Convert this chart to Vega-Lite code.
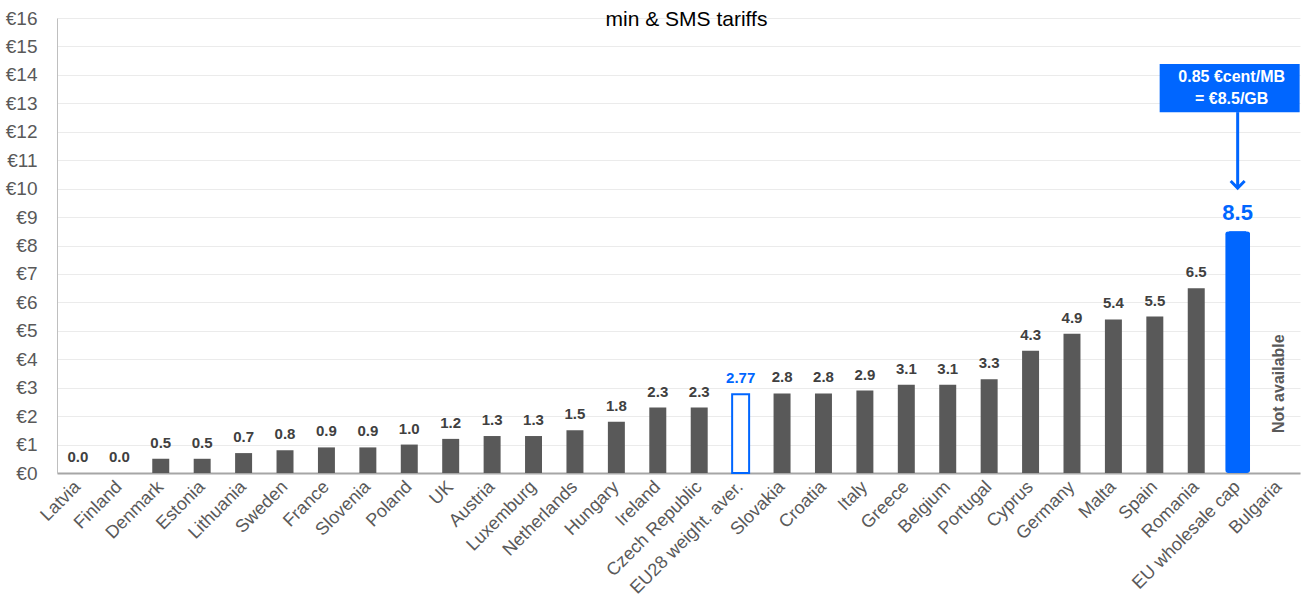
{
  "$schema": "https://vega.github.io/schema/vega-lite/v6.json",
  "width": 1243,
  "height": 455,
  "autosize": {"type": "none"},
  "padding": {"left": 57, "top": 18, "right": 13, "bottom": 130},
  "background": "white",
  "title": {
    "text": "min & SMS tariffs",
    "anchor": "middle",
    "baseline": "middle",
    "offset": -32,
    "dx": 8,
    "font": "Liberation Sans",
    "fontSize": 21,
    "fontWeight": "normal",
    "color": "#000000"
  },
  "config": {
    "view": {"stroke": null},
    "font": "Liberation Sans",
    "axisY": {
      "tickCount": 16,
      "labelExpr": "'€' + datum.value",
      "labelOverlap": false,
      "labelFontSize": 19,
      "labelColor": "#595959",
      "labelFont": "Liberation Sans",
      "labelPadding": 20,
      "ticks": false,
      "gridColor": "#ebebeb",
      "gridWidth": 1,
      "domainColor": "#bfbfbf",
      "domainWidth": 1
    }
  },
  "data": {
    "values": [
      {"country": "Latvia", "value": 0.0, "label": "0.0", "kind": "country"},
      {"country": "Finland", "value": 0.0, "label": "0.0", "kind": "country"},
      {"country": "Denmark", "value": 0.5, "label": "0.5", "kind": "country"},
      {"country": "Estonia", "value": 0.5, "label": "0.5", "kind": "country"},
      {"country": "Lithuania", "value": 0.7, "label": "0.7", "kind": "country"},
      {"country": "Sweden", "value": 0.8, "label": "0.8", "kind": "country"},
      {"country": "France", "value": 0.9, "label": "0.9", "kind": "country"},
      {"country": "Slovenia", "value": 0.9, "label": "0.9", "kind": "country"},
      {"country": "Poland", "value": 1.0, "label": "1.0", "kind": "country"},
      {"country": "UK", "value": 1.2, "label": "1.2", "kind": "country"},
      {"country": "Austria", "value": 1.3, "label": "1.3", "kind": "country"},
      {"country": "Luxemburg", "value": 1.3, "label": "1.3", "kind": "country"},
      {"country": "Netherlands", "value": 1.5, "label": "1.5", "kind": "country"},
      {"country": "Hungary", "value": 1.8, "label": "1.8", "kind": "country"},
      {"country": "Ireland", "value": 2.3, "label": "2.3", "kind": "country"},
      {"country": "Czech Republic", "value": 2.3, "label": "2.3", "kind": "country"},
      {"country": "EU28 weight. aver.", "value": 2.77, "label": "2.77", "kind": "average"},
      {"country": "Slovakia", "value": 2.8, "label": "2.8", "kind": "country"},
      {"country": "Croatia", "value": 2.8, "label": "2.8", "kind": "country"},
      {"country": "Italy", "value": 2.9, "label": "2.9", "kind": "country"},
      {"country": "Greece", "value": 3.1, "label": "3.1", "kind": "country"},
      {"country": "Belgium", "value": 3.1, "label": "3.1", "kind": "country"},
      {"country": "Portugal", "value": 3.3, "label": "3.3", "kind": "country"},
      {"country": "Cyprus", "value": 4.3, "label": "4.3", "kind": "country"},
      {"country": "Germany", "value": 4.9, "label": "4.9", "kind": "country"},
      {"country": "Malta", "value": 5.4, "label": "5.4", "kind": "country"},
      {"country": "Spain", "value": 5.5, "label": "5.5", "kind": "country"},
      {"country": "Romania", "value": 6.5, "label": "6.5", "kind": "country"},
      {"country": "EU wholesale cap", "value": 8.5, "label": "8.5", "kind": "cap"},
      {"country": "Bulgaria", "value": null, "label": "", "kind": "na"}
    ]
  },
  "encoding": {
    "x": {
      "field": "country",
      "type": "nominal",
      "sort": null,
      "scale": {"paddingInner": 0.59, "paddingOuter": 0.3},
      "axis": {
        "title": null,
        "labelAngle": -45,
        "labelAlign": "right",
        "labelBaseline": "middle",
        "labelPadding": 11,
        "labelFontSize": 18,
        "labelColor": "#595959",
        "labelFont": "Liberation Sans",
        "ticks": false,
        "domainColor": "#a6a6a6",
        "domainWidth": 2,
        "labelOverlap": false
      }
    }
  },
  "layer": [
    {
      "mark": {"type": "bar", "strokeWidth": 2},
      "transform": [{"filter": "datum.kind !== 'na'"}],
      "encoding": {
        "y": {
          "field": "value",
          "type": "quantitative",
          "title": null,
          "scale": {"domain": [0, 16], "nice": false}
        },
        "fill": {
          "field": "kind",
          "type": "nominal",
          "scale": {"domain": ["country", "average", "cap"], "range": ["#595959", "#ffffff", "#0066ff"]},
          "legend": null
        },
        "stroke": {
          "field": "kind",
          "type": "nominal",
          "scale": {"domain": ["country", "average", "cap"], "range": ["#595959", "#0066ff", "#0066ff"]},
          "legend": null
        },
        "strokeWidth": {
          "condition": {"test": "datum.kind === 'average'", "value": 2},
          "value": 0
        }
      }
    },
    {
      "mark": {"type": "bar", "color": "#0066ff", "width": 25, "cornerRadius": 3},
      "transform": [{"filter": "datum.kind === 'cap'"}],
      "encoding": {"y": {"field": "value", "type": "quantitative", "title": null}}
    },
    {
      "mark": {"type": "text", "baseline": "bottom", "dy": -8, "fontSize": 15, "fontWeight": "bold", "font": "Liberation Sans"},
      "transform": [{"filter": "datum.kind === 'country' || datum.kind === 'average'"}],
      "encoding": {
        "y": {"field": "value", "type": "quantitative", "title": null},
        "text": {"field": "label"},
        "color": {
          "condition": {"test": "datum.kind === 'average'", "value": "#0066ff"},
          "value": "#404040"
        }
      }
    },
    {
      "mark": {"type": "text", "baseline": "bottom", "dy": -6, "fontSize": 22, "fontWeight": "bold", "color": "#0066ff", "font": "Liberation Sans"},
      "transform": [{"filter": "datum.kind === 'cap'"}],
      "encoding": {
        "y": {"field": "value", "type": "quantitative", "title": null},
        "text": {"field": "label"}
      }
    },
    {
      "mark": {"type": "text", "angle": 270, "align": "left", "baseline": "middle", "dx": 40, "fontSize": 16, "fontWeight": "bold", "color": "#595959", "font": "Liberation Sans", "text": "Not available"},
      "transform": [{"filter": "datum.kind === 'na'"}],
      "encoding": {"y": {"datum": 0}}
    },
    {
      "mark": {"type": "bar", "color": "#0066ff", "width": 140, "xOffset": -8},
      "transform": [{"filter": "datum.kind === 'cap'"}],
      "encoding": {"y": {"datum": 14.38}, "y2": {"datum": 12.69}}
    },
    {
      "mark": {"type": "text", "color": "white", "fontSize": 16, "fontWeight": "bold", "font": "Liberation Sans", "xOffset": -6, "lineHeight": 22, "baseline": "middle", "dy": -11, "text": ["0.85 €cent/MB", "= €8.5/GB"]},
      "transform": [{"filter": "datum.kind === 'cap'"}],
      "encoding": {"y": {"datum": 13.53}}
    },
    {
      "mark": {"type": "rule", "color": "#0066ff", "strokeWidth": 3},
      "transform": [{"filter": "datum.kind === 'cap'"}],
      "encoding": {"y": {"datum": 12.69}, "y2": {"datum": 10.08}}
    },
    {
      "mark": {"type": "point", "shape": "M-1,-1L0,0L1,-1", "size": 196, "filled": false, "stroke": "#0066ff", "strokeWidth": 3, "opacity": 1},
      "transform": [{"filter": "datum.kind === 'cap'"}],
      "encoding": {"y": {"datum": 10.02}}
    }
  ]
}
